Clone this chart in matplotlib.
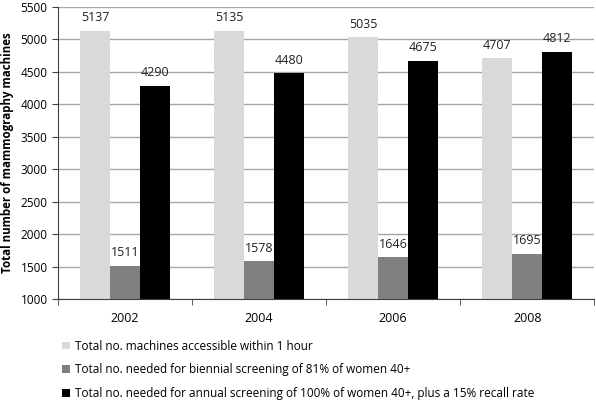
import matplotlib
matplotlib.use("Agg")
import matplotlib.pyplot as plt
import numpy as np

years = ["2002", "2004", "2006", "2008"]
accessible = [5137, 5135, 5035, 4707]
biennial = [1511, 1578, 1646, 1695]
annual = [4290, 4480, 4675, 4812]
labels = ["Total no. machines accessible within 1 hour",
          "Total no. needed for biennial screening of 81% of women 40+",
          "Total no. needed for annual screening of 100% of women 40+, plus a 15% recall rate"]
colors = ["#d9d9d9", "#808080", "#000000"]

plt.rcParams['font.family'] = ['Open Sans', 'DejaVu Sans']

fig = plt.figure(figsize=(5.96, 4.0), dpi=100)
ax = fig.add_axes([0.0973, 0.2525, 0.9, 0.73])

x = np.arange(len(years))
w = 0.224
series = [accessible, biennial, annual]
for i, (vals, c, lab) in enumerate(zip(series, colors, labels)):
    pos = x + (i - 1) * w
    ax.bar(pos, vals, width=w, color=c, label=lab, zorder=2)
    for p, v in zip(pos, vals):
        ax.text(p, v + 100, str(v), ha='center', va='bottom', fontsize=9, color='#222222', zorder=3)

ax.set_ylim(1000, 5500)
ax.set_yticks(range(1000, 5501, 500))
ax.set_xlim(-0.5, 3.5)
ax.yaxis.grid(True, color='#a6a6a6', linewidth=1.0, zorder=0)
ax.set_axisbelow(True)
for s in ['top', 'right']:
    ax.spines[s].set_visible(False)
ax.spines['left'].set_color('#404040')
ax.spines['bottom'].set_color('#404040')
ax.set_xticks(x)
ax.set_xticklabels(years)
ax.tick_params(axis='x', length=0, pad=9, labelsize=9)
ax.set_xticks(np.arange(-0.5, 4.0, 1.0), minor=True)
ax.tick_params(axis='x', which='minor', length=4, direction='out', color='#404040')
ax.tick_params(axis='y', length=4, direction='out', color='#404040', labelsize=8.5)
ax.set_ylabel("Total number of mammography machines", fontsize=8.3, fontweight='bold', labelpad=5)

fig.legend(loc='upper left', bbox_to_anchor=(0.104, 0.151), frameon=False,
           fontsize=8.5, handlelength=0.65, handleheight=0.65, handletextpad=0.45,
           labelspacing=0.92, borderaxespad=0, borderpad=0)

fig.savefig("out.png", dpi=100)
